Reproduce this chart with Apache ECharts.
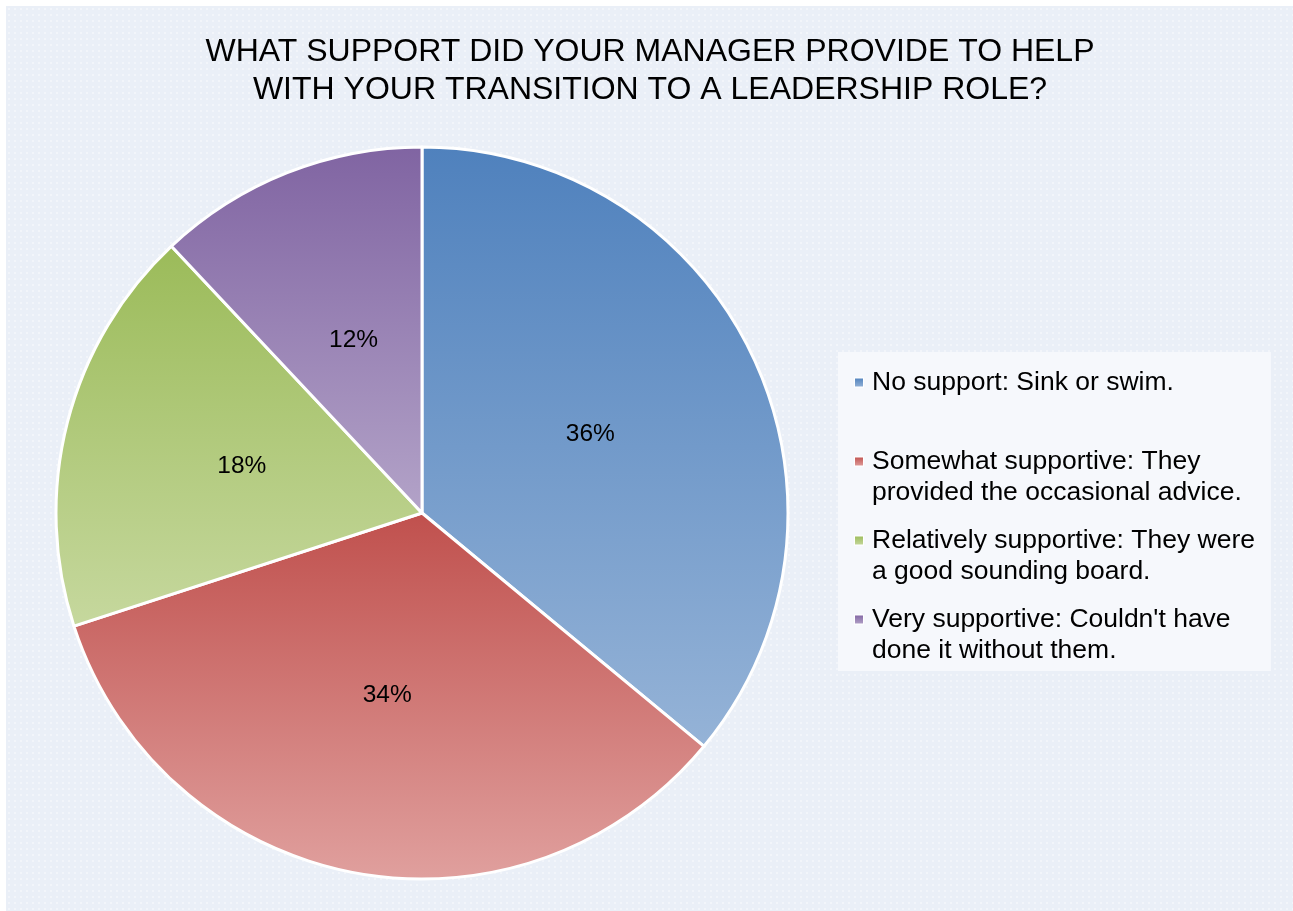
<!DOCTYPE html>
<html>
<head>
<meta charset="utf-8">
<title>Manager support during leadership transition</title>
<script src="https://cdn.jsdelivr.net/npm/echarts@6/dist/echarts.min.js"></script>
<style>
  html, body { margin: 0; padding: 0; background: #ffffff; }
  #chart { width: 1293px; height: 911px; }
</style>
</head>
<body>
<div id="chart"></div>
<script>
// Survey answers (legend text, with line breaks) and their shares in percent
const categories = [
  'No support: Sink or swim.',
  'Somewhat supportive: They\nprovided the occasional advice.',
  'Relatively supportive: They were\na good sounding board.',
  "Very supportive: Couldn't have\ndone it without them."
];
const shares = [36, 34, 18, 12];

const titleLines = [
  'WHAT SUPPORT DID YOUR MANAGER PROVIDE TO HELP',
  'WITH YOUR TRANSITION TO A LEADERSHIP ROLE?'
];

// Office-style palette: dark tone at the top of each slice, light tone at the bottom
const darkTones = ['#4F81BD', '#C0504D', '#9BBB59', '#8064A2'];
const lightTones = ['#95B3D7', '#E0A09E', '#C6D89E', '#B3A3C8'];

const FONT = 'Liberation Sans, Arial, sans-serif';

function sliceGradient(i) {
  return {
    type: 'linear', x: 0, y: 0, x2: 0, y2: 1,
    colorStops: [
      { offset: 0, color: darkTones[i] },
      { offset: 1, color: lightTones[i] }
    ]
  };
}

// Dotted plot-area texture
function dotPattern() {
  const c = document.createElement('canvas');
  c.width = 6; c.height = 6;
  const g = c.getContext('2d');
  g.fillStyle = '#EAEFF7';
  g.fillRect(0, 0, 6, 6);
  g.fillStyle = '#F2F5FA';
  g.fillRect(2, 2, 2, 2);
  return c;
}

const chart = echarts.init(document.getElementById('chart'), null, { renderer: 'canvas' });

// Rich-text styles for the legend: a small coloured square per entry
const legendRich = {
  t: { fontSize: 26.5, lineHeight: 31, color: '#000', fontFamily: FONT },
  g: { width: 9, height: 31 },
  ind: { width: 17, height: 31 },
  e: { height: 29, lineHeight: 29, fontSize: 26.5 }
};
darkTones.forEach((c, i) => {
  legendRich['s' + i] = {
    width: 8, height: 8,
    backgroundColor: {
      type: 'linear', x: 0, y: 0, x2: 0, y2: 1,
      colorStops: [{ offset: 0, color: darkTones[i] }, { offset: 1, color: lightTones[i] }]
    },
    borderColor: '#ffffff', borderWidth: 1
  };
});

const option = {
  backgroundColor: '#ffffff',
  animation: false,
  graphic: [
    {
      type: 'rect', z: -10, silent: true,
      shape: { x: 6, y: 6, width: 1293, height: 911 },
      style: { fill: { image: dotPattern(), repeat: 'repeat' } }
    }
  ],
  title: {
    text: titleLines.join('\n'),
    left: 645,
    textAlign: 'center',
    top: 28,
    textStyle: {
      fontFamily: FONT,
      fontSize: 32,
      fontWeight: 'normal',
      lineHeight: 38,
      color: '#000'
    }
  },
  legend: {
    orient: 'vertical',
    left: 838,
    top: 352,
    padding: [17, 16, 7, 12],
    itemGap: 21,
    icon: 'none',
    itemWidth: 0,
    itemHeight: 8,
    textGap: 0,
    selectedMode: false,
    backgroundColor: '#F6F8FC',
    data: categories,
    formatter: function (name) {
      const i = categories.indexOf(name);
      const lines = name.split('\n');
      let s = '{s' + i + '|}{g|}{t|' + lines[0] + '}';
      if (lines.length > 1) {
        s += '\n{ind|}{t|' + lines[1] + '}';
      } else {
        s += '\n{e| }';
      }
      return s;
    },
    textStyle: { rich: legendRich }
  },
  series: [
    {
      type: 'pie',
      center: [422, 513],
      radius: 366,
      startAngle: 90,
      clockwise: true,
      avoidLabelOverlap: false,
      silent: true,
      itemStyle: { borderColor: '#ffffff', borderWidth: 3 },
      label: {
        show: true,
        position: 'inside',
        formatter: '{c}%',
        fontSize: 24.5,
        color: '#000',
        fontFamily: FONT
      },
      labelLine: { show: false },
      data: categories.map((name, i) => ({
        name: name,
        value: shares[i],
        itemStyle: { color: sliceGradient(i) }
      }))
    }
  ]
};

chart.setOption(option);
</script>
</body>
</html>
